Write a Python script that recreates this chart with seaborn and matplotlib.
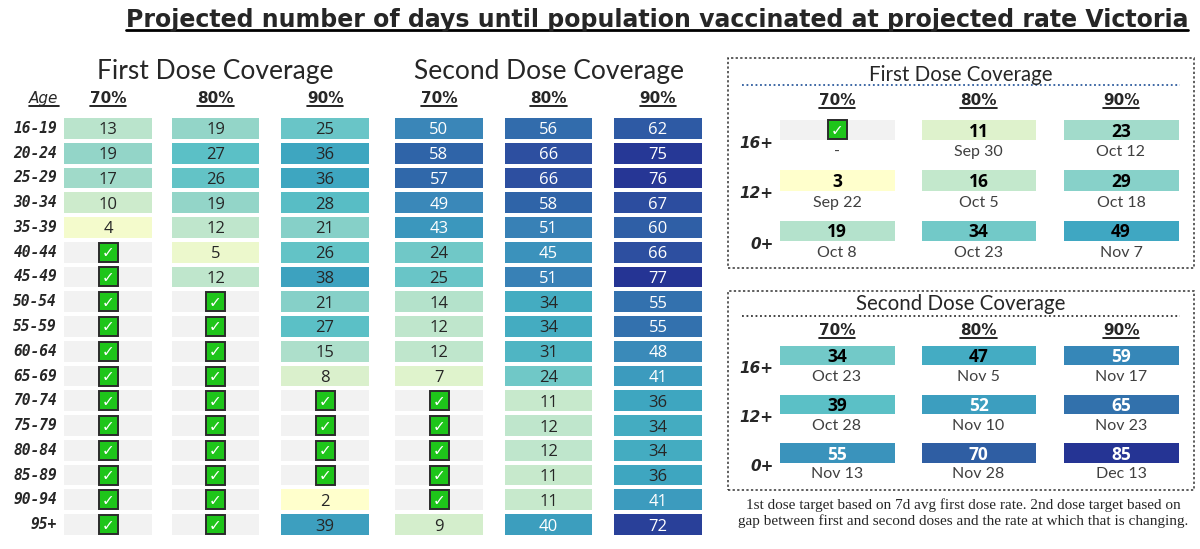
import numpy as np
import matplotlib
matplotlib.use("Agg")
import matplotlib.pyplot as plt
from matplotlib.colors import LinearSegmentedColormap, ListedColormap
from matplotlib.patches import Rectangle
from matplotlib.lines import Line2D
import seaborn as sns

# ---------------- data ----------------
ages = ["16-19", "20-24", "25-29", "30-34", "35-39", "40-44", "45-49", "50-54",
        "55-59", "60-64", "65-69", "70-74", "75-79", "80-84", "85-89", "90-94", "95+"]
targets = ["70%", "80%", "90%"]

# None = target already reached (check mark)
first_70 = [13, 19, 17, 10, 4, None, None, None, None, None, None, None, None, None, None, None, None]
first_80 = [19, 27, 26, 19, 12, 5, 12, None, None, None, None, None, None, None, None, None, None]
first_90 = [25, 36, 36, 28, 21, 26, 38, 21, 27, 15, 8, None, None, None, None, 2, 39]
second_70 = [50, 58, 57, 49, 43, 24, 25, 14, 12, 12, 7, None, None, None, None, None, 9]
second_80 = [56, 66, 66, 58, 51, 45, 51, 34, 34, 31, 24, 11, 12, 12, 11, 11, 40]
second_90 = [62, 75, 76, 67, 60, 66, 77, 55, 55, 48, 41, 36, 34, 34, 36, 41, 72]

groups = ["16+", "12+", "0+"]
first_days = {"16+": [None, 11, 23], "12+": [3, 16, 29], "0+": [19, 34, 49]}
first_dates = {"16+": ["-", "Sep 30", "Oct 12"], "12+": ["Sep 22", "Oct 5", "Oct 18"],
               "0+": ["Oct 8", "Oct 23", "Nov 7"]}
second_days = {"16+": [34, 47, 59], "12+": [39, 52, 65], "0+": [55, 70, 85]}
second_dates = {"16+": ["Oct 23", "Nov 5", "Nov 17"], "12+": ["Oct 28", "Nov 10", "Nov 23"],
                "0+": ["Nov 13", "Nov 28", "Dec 13"]}

title = "Projected number of days until population vaccinated at projected rate Victoria"
footnote = ("1st dose target based on 7d avg first dose rate. 2nd dose target based on\n"
            "gap between first and second doses and the rate at which that is changing.")

# ---------------- style ----------------
GREY = "#f2f2f2"
main_nodes = [(2, "#ffffcc"), (8, "#d9f0cc"), (13, "#b9e4cc"), (19, "#93d5c8"), (27, "#5bc0c6"),
              (36, "#3ea6c0"), (43, "#3b97bd"), (50, "#3a86b8"), (58, "#2f64a8"),
              (66, "#2d4fa0"), (77, "#253494")]
panel_nodes = [(3, "#ffffcc"), (11, "#ddf2cc"), (19, "#b3e2cc"), (29, "#87d1c9"), (39, "#5bc0c6"),
               (49, "#3fa7c2"), (59, "#3687b8"), (70, "#2f5fa3"), (85, "#253494")]


def make_cmap(nodes, vmin, vmax):
    return LinearSegmentedColormap.from_list(
        "c", [((v - vmin) / (vmax - vmin), c) for v, c in nodes])


sns.set_style("white")
plt.rcParams["font.family"] = ["Open Sans", "DejaVu Sans"]

W, H = 1200, 549
fig = plt.figure(figsize=(W / 100, H / 100), dpi=100)


def px_axes(x0, y0, x1, y1):
    return fig.add_axes([x0 / W, 1 - y1 / H, (x1 - x0) / W, (y1 - y0) / H])


def ftext(x, y, s, **kw):
    return fig.text(x / W, 1 - y / H, s, **kw)


def draw_check(ax, i, col_px, row_px, size=19):
    w, h = size / col_px, size / row_px
    ax.add_patch(Rectangle((0.5 - w / 2, i + 0.5 - h / 2), w, h, fc="#1ec51a",
                           ec="#2b2b2b", lw=1.4, zorder=3))
    ax.text(0.5, i + 0.52, "\u2713", ha="center", va="center", color="white",
            fontsize=11, fontweight="bold", family="DejaVu Sans", zorder=4)


def draw_column(ax, values, cell_rows, cmap, vmin, vmax, white_from, col_px, row_px,
                fs, weight, dark, lw, ylabels=None):
    vals = np.array([np.nan if v is None else v for v in values], dtype=float).reshape(-1, 1)
    cell = np.array(cell_rows, dtype=bool).reshape(-1, 1)
    sns.heatmap(np.zeros_like(vals), mask=~cell, cmap=ListedColormap([GREY]), cbar=False,
                linewidths=lw, linecolor="white", xticklabels=False, yticklabels=False, ax=ax)
    sns.heatmap(vals, mask=np.isnan(vals) | ~cell, cmap=cmap, vmin=vmin, vmax=vmax, cbar=False,
                linewidths=lw, linecolor="white", xticklabels=False,
                yticklabels=ylabels if ylabels is not None else False, ax=ax)
    ax.set_facecolor("none")
    for i, v in enumerate(vals[:, 0]):
        if not cell[i, 0]:
            continue
        if np.isnan(v):
            draw_check(ax, i, col_px, row_px)
        else:
            ax.text(0.5, i + 0.5, f"{int(v)}", ha="center", va="center_baseline",
                    fontsize=fs, fontweight=weight,
                    color="white" if v >= white_from else dark)


# ---------------- main table ----------------
main_data = [first_70, first_80, first_90, second_70, second_80, second_90]
main_x = [(62, 154), (170, 261), (279, 371), (393, 485), (503, 594), (612, 704)]
top, bottom = 116, 537
allv = [v for col in main_data for v in col if v is not None]
mvmin, mvmax = min(allv), max(allv)
main_cmap = make_cmap(main_nodes, mvmin, mvmax)
row_px = (bottom - top) / len(ages)

underlined = []
for k, (col, (x0, x1)) in enumerate(zip(main_data, main_x)):
    ax = px_axes(x0, top, x1, bottom)
    draw_column(ax, col, [True] * len(col), main_cmap, mvmin, mvmax, 40, x1 - x0, row_px,
                12, "normal", "#262626", 1.5, ylabels=ages if k == 0 else None)
    if k == 0:
        ax.tick_params(axis="y", length=0, pad=3.5)
        for lbl in ax.get_yticklabels():
            lbl.set(family="DejaVu Sans Mono", fontweight="bold", fontstyle="italic",
                    fontsize=10.5, rotation=0, ha="right")
    underlined.append(ftext((x0 + x1) / 2, 103, targets[k % 3], ha="center", va="baseline",
                            fontsize=11, fontweight="bold", family="DejaVu Sans"))

underlined.append(ftext(44, 103, "Age", ha="center", va="baseline", fontsize=11,
                        fontstyle="italic", family="DejaVu Sans"))
ftext(215, 72, "First Dose Coverage", ha="center", va="center", fontsize=19, family="Lato")
ftext(549, 72, "Second Dose Coverage", ha="center", va="center", fontsize=19, family="Lato")

t_title = ftext(657, 27, title, ha="center", va="baseline", fontsize=17,
                fontweight="bold", family="DejaVu Sans")
underlined.append(t_title)

# ---------------- summary panels ----------------
pv = [v for d in (first_days, second_days) for g in groups for v in d[g] if v is not None]
pvmin, pvmax = min(pv), max(pv)
panel_cmap = make_cmap(panel_nodes, pvmin, pvmax)
panel_x = [(777, 897), (919, 1038), (1061, 1181)]

panels = [
    dict(days=first_days, dates=first_dates, name="First Dose Coverage", box=(728, 58, 1194, 268),
         title_y=75, rule_y=85, rule_c="#2e5c9e", head_y=105, grid=(117, 268)),
    dict(days=second_days, dates=second_dates, name="Second Dose Coverage",
         box=(728, 291, 1194, 490), title_y=304, rule_y=316, rule_c="#333333", head_y=335,
         grid=(343, 489)),
]

for p in panels:
    bx0, by0, bx1, by1 = p["box"]
    fig.add_artist(Rectangle((bx0 / W, 1 - by1 / H), (bx1 - bx0) / W, (by1 - by0) / H,
                             transform=fig.transFigure, fill=False, ec="#333333", lw=1.1,
                             ls=(0, (1.5, 1.5))))
    ftext((bx0 + bx1) / 2, p["title_y"], p["name"], ha="center", va="center", fontsize=14.8,
          family="Lato")
    fig.add_artist(Line2D([742 / W, 1180 / W], [1 - p["rule_y"] / H] * 2,
                          transform=fig.transFigure, color=p["rule_c"], lw=1.3,
                          ls=(0, (1, 1.5))))
    g0, g1 = p["grid"]
    prow = (g1 - g0) / 6
    for j, (x0, x1) in enumerate(panel_x):
        col = []
        for g in groups:
            col += [p["days"][g][j], None]
        ax = px_axes(x0, g0, x1, g1)
        draw_column(ax, col, [True, False] * 3, panel_cmap, pvmin, pvmax, 50, x1 - x0, prow,
                    12.5, "bold", "black", 2.2)
        for r, g in enumerate(groups):
            ax.text(0.5, 2 * r + 1.4, p["dates"][g][j], ha="center", va="center",
                    fontsize=11.5, color="#404040", family="Lato")
        if j == 0:
            ax.set_yticks([1, 3, 5])
            ax.set_yticklabels(groups)
            ax.tick_params(axis="y", length=0, pad=2.5)
            for lbl in ax.get_yticklabels():
                lbl.set(family="DejaVu Sans", fontweight="bold", fontstyle="italic",
                        fontsize=11, rotation=0, ha="right")
        underlined.append(ftext((x0 + x1) / 2, p["head_y"], targets[j], ha="center",
                                va="baseline", fontsize=11, fontweight="bold",
                                family="DejaVu Sans"))

ftext(963, 513, footnote, ha="center", va="center", fontsize=11, family="Liberation Serif",
      linespacing=1.2)

# ---------------- underlines ----------------
renderer = fig.canvas.get_renderer()
for t in underlined:
    bb = t.get_window_extent(renderer)
    yb = t.get_transform().transform(t.get_position())[1] - (3 if t is t_title else 2.5)
    fig.add_artist(Line2D([bb.x0 / W, bb.x1 / W], [yb / H, yb / H], transform=fig.transFigure,
                          color="black", lw=2 if t is t_title else 1.2))

fig.savefig("out.png", dpi=100)
